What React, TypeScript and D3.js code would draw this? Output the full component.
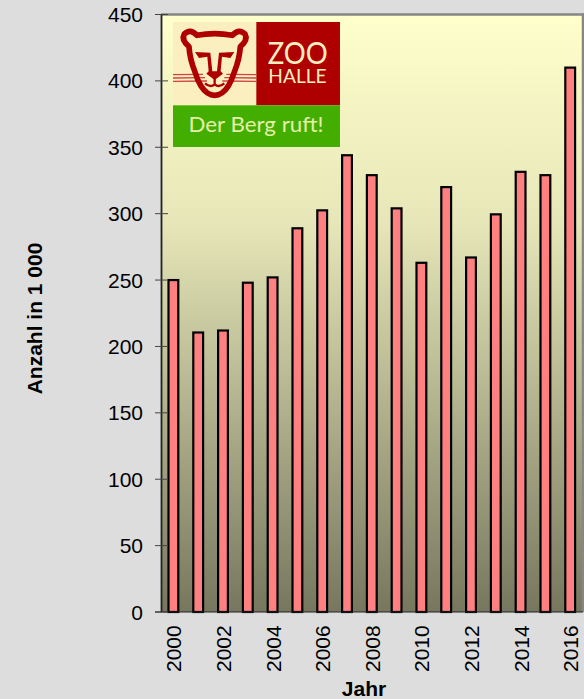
import React from 'react';
import * as d3 from 'd3';

const years = ['2000','2001','2002','2003','2004','2005','2006','2007','2008','2009','2010','2011','2012','2013','2014','2015','2016'];
const visitors = [250, 210.5, 212, 248, 252, 289, 302.5, 344, 329, 304, 263, 320, 267, 299.5, 331.5, 329, 410];
const yTicks = [0, 50, 100, 150, 200, 250, 300, 350, 400, 450];
const yearLabels = years.filter((_, i) => i % 2 === 0);

const W = 584;
const H = 699;
const FONT = '"Liberation Sans", Arial, sans-serif';
const LOGO_FONT = 'Lato, sans-serif';

const x = d3.scaleBand().domain(years).range([161, 582.6]).paddingInner(0.605).paddingOuter(0.3025);
const y = d3.scaleLinear().domain([0, 450]).range([612, 14.5]);

// logo is drawn in 3x units, mapped back with the group transform
const Logo = () => {
  const red = '#AE0000';
  const cream = '#FBEFC0';
  const green = '#43AE00';
  return (
    <g transform="translate(150,0) scale(0.3333)">
      <rect x={69} y={66} width={250} height={250} fill={cream} />
      <rect x={319} y={66} width={251} height={250} fill={red} />
      <rect x={69} y={316} width={501} height={125} fill={green} />
      <g transform="translate(69,66)">
        {[158, 168, 178].map((wy, i) => (
          <g key={wy} stroke="#CC4444" strokeWidth={4} fill="none">
            <line x1={0} y1={wy} x2={90 + i * 6} y2={wy - 1} />
            <line x1={250} y1={wy} x2={160 - i * 6} y2={wy - 1} />
          </g>
        ))}
        <path
          d="M72,40 Q52,18 34,36 Q24,54 48,74 Q50,110 66,150 Q74,176 84,192 Q102,220 125,220 Q148,220 166,192 Q176,176 184,150 Q200,110 202,74 Q226,54 216,36 Q198,18 178,40 Q125,30 72,40 Z"
          fill="none"
          stroke={red}
          strokeWidth={17}
          strokeLinejoin="round"
        />
        {/* brows and nose */}
        <path d="M66,90 L112,92 L118,148 L132,148 L138,92 L184,90 L172,108 L147,104 L143,148 L150,155 L125,174 L100,155 L107,148 L103,104 L78,108 Z" fill={red} />
        <path d="M125,170 L125,186 M96,184 Q112,198 125,187 Q138,198 154,184" fill="none" stroke={red} strokeWidth={7} />
      </g>
      <text x={443} y={191} textAnchor="middle" fontFamily={LOGO_FONT} fontSize={92} textLength={180} lengthAdjust="spacingAndGlyphs" fill={cream}>ZOO</text>
      <text x={442.5} y={249} textAnchor="middle" fontFamily={LOGO_FONT} fontSize={57} textLength={175} lengthAdjust="spacingAndGlyphs" fill={cream}>HALLE</text>
      <text x={318} y={395} textAnchor="middle" fontFamily={LOGO_FONT} fontSize={64} textLength={405} lengthAdjust="spacingAndGlyphs" fill="#E4F0A8">Der Berg ruft!</text>
    </g>
  );
};

export default function App() {
  const plotLeft = 161;
  const plotRight = 583;
  const top = y(450);
  const base = y(0);

  return (
    <svg width={W} height={H} style={{ position: 'absolute', left: 0, top: 0, background: '#DDDDDD' }}>
      <defs>
        <linearGradient id="plot-bg" x1="0" y1="0" x2="0" y2="1">
          <stop offset="0%" stopColor="#FFFFCC" />
          <stop offset="35%" stopColor="#E6E6B8" />
          <stop offset="100%" stopColor="#77775F" />
        </linearGradient>
      </defs>

      <rect x={plotLeft} y={top} width={plotRight - plotLeft} height={base - top} fill="url(#plot-bg)" />
      <line x1={plotLeft} y1={top} x2={plotRight + 1} y2={top} stroke="#868686" strokeWidth={2.5} />
      <line x1={plotRight} y1={top - 1} x2={plotRight} y2={base} stroke="#868686" strokeWidth={2.5} />

      <Logo />

      {years.map((yr, i) => (
        <rect
          key={yr}
          x={x(yr)}
          y={y(visitors[i])}
          width={x.bandwidth()}
          height={base - y(visitors[i])}
          fill="#FF8080"
          stroke="#000"
          strokeWidth={2.2}
        />
      ))}

      <line x1={plotLeft + 0.5} y1={top} x2={plotLeft + 0.5} y2={base} stroke="#222" strokeWidth={1.8} />
      <line x1={plotLeft - 6} y1={base} x2={plotRight} y2={base} stroke="#222" strokeWidth={1.2} />

      {yTicks.map(t => (
        <g key={t}>
          <line x1={plotLeft - 6} y1={y(t)} x2={plotLeft + 7} y2={y(t)} stroke="#444" strokeWidth={1} />
          <text x={143} y={y(t) + 7.5} textAnchor="end" fontFamily={FONT} fontSize={21} fill="#000">{t}</text>
        </g>
      ))}

      {yearLabels.map(yr => {
        const cx = (x(yr) as number) + x.bandwidth() / 2;
        return (
          <text
            key={yr}
            transform={`translate(${cx + 8},672) rotate(-90)`}
            fontFamily={FONT}
            fontSize={21}
            fill="#000"
          >
            {yr}
          </text>
        );
      })}

      <text x={364} y={696} textAnchor="middle" fontFamily={FONT} fontSize={21} fontWeight="bold" fill="#000">Jahr</text>
      <text transform="translate(42,318.5) rotate(-90)" textAnchor="middle" fontFamily={FONT} fontSize={21} fontWeight="bold" fill="#000">Anzahl in 1 000</text>
    </svg>
  );
}
